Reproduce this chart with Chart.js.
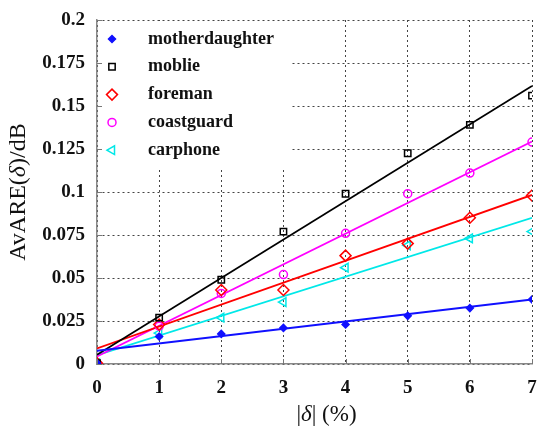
<!DOCTYPE html>
<html>
<head>
<meta charset="utf-8">
<script src="https://cdn.jsdelivr.net/npm/chart.js@4.4.1/dist/chart.umd.min.js"></script>
<style>
  html, body { margin: 0; padding: 0; background: #fff; }
  #wrap { width: 539px; height: 428px; position: relative; }
</style>
</head>
<body>
<div id="wrap"><canvas id="c" width="539" height="428"></canvas></div>
<script>
// ---- data ----
const xValues = [0, 1, 2, 3, 4, 5, 6, 7];
const yTickLabels = ['0', '0.025', '0.05', '0.075', '0.1', '0.125', '0.15', '0.175', '0.2'];
const seriesNames = ['motherdaughter', 'moblie', 'foreman', 'coastguard', 'carphone'];

const motherdaughter = [0.0005, 0.016, 0.0175, 0.021, 0.023, 0.028, 0.0325, 0.0375];
const moblie         = [0.0005, 0.027, 0.049, 0.077, 0.099, 0.1225, 0.139, 0.156];
const foreman        = [0.0005, 0.023, 0.043, 0.043, 0.063, 0.070, 0.085, 0.098];
const coastguard     = [0.0005, 0.022, 0.041, 0.052, 0.076, 0.099, 0.111, 0.129];
const carphone       = [0.0005, 0.018, 0.027, 0.036, 0.056, 0.069, 0.073, 0.077];

// fitted lines: value at x = 0 and at x = 7
const fitX = [0, 7];
const fitMotherdaughter = [0.0077, 0.0375];
const fitMoblie         = [0.0054, 0.1616];
const fitForeman        = [0.0090, 0.0983];
const fitCoastguard     = [0.0044, 0.1293];
const fitCarphone       = [0.0051, 0.0850];

// axis titles (text, italic?)
const yTitleParts = [['AvARE(', false], ['δ', true], [')/dB', false]];
const xTitleParts = [['|', false], ['δ', true], ['| (%)', false]];

// ---- styling ----
const colors = ['#1010ff', '#000000', '#ff0000', '#ff00ff', '#00e8e8'];
const styles = [
  { pointStyle: 'rectRot', radius: 3.5, filled: true, rotation: 0 },
  { pointStyle: 'rect', radius: 4.5, filled: false, rotation: 0 },
  { pointStyle: 'rectRot', radius: 5.5, filled: false, rotation: 0 },
  { pointStyle: 'circle', radius: 4, filled: false, rotation: 0 },
  { pointStyle: 'triangle', radius: 5, filled: false, rotation: -90 }
];
const pointsData = [motherdaughter, moblie, foreman, coastguard, carphone];
const fitsData = [fitMotherdaughter, fitMoblie, fitForeman, fitCoastguard, fitCarphone];

const datasets = [];
fitsData.forEach((f, i) => {
  datasets.push({
    label: seriesNames[i] + ' fit',
    data: fitX.map((x, k) => ({ x: x, y: f[k] })),
    showLine: true,
    borderColor: colors[i],
    borderWidth: 1.8,
    pointRadius: 0,
    fill: false,
    order: 2
  });
});
pointsData.forEach((arr, i) => {
  const s = styles[i];
  datasets.push({
    label: seriesNames[i],
    data: xValues.map((x, k) => ({ x: x, y: arr[k] })),
    showLine: false,
    borderColor: colors[i],
    backgroundColor: s.filled ? colors[i] : 'rgba(0,0,0,0)',
    borderWidth: 1.5,
    pointStyle: s.pointStyle,
    pointRadius: s.radius,
    pointRotation: s.rotation,
    order: 1
  });
});

const SERIF = '"Liberation Serif", "DejaVu Serif", serif';

function drawParts(ctx, parts, size, cx, cy) {
  const fontOf = it => (it ? 'italic ' : '') + size + 'px ' + SERIF;
  let total = 0;
  parts.forEach(p => { ctx.font = fontOf(p[1]); total += ctx.measureText(p[0]).width; });
  let x = cx - total / 2;
  ctx.textBaseline = 'middle';
  ctx.textAlign = 'left';
  parts.forEach(p => {
    ctx.font = fontOf(p[1]);
    ctx.fillText(p[0], x, cy);
    x += ctx.measureText(p[0]).width;
  });
}

const titles = {
  id: 'titles',
  afterDraw(chart) {
    const ctx = chart.ctx, a = chart.chartArea;
    ctx.save();
    ctx.fillStyle = '#111';
    drawParts(ctx, xTitleParts, 23, (a.left + a.right) / 2 + 12, 415);
    ctx.translate(19, (a.top + a.bottom) / 2);
    ctx.rotate(-Math.PI / 2);
    drawParts(ctx, yTitleParts, 24, 0, 0);
    ctx.restore();
  }
};

const innerTicks = {
  id: 'innerTicks',
  afterDraw(chart) {
    const ctx = chart.ctx, a = chart.chartArea;
    const xs = chart.scales.x, ys = chart.scales.y;
    ctx.save();
    ctx.strokeStyle = '#777';
    ctx.lineWidth = 1;
    ctx.beginPath();
    ys.ticks.forEach(t => {
      const py = Math.round(ys.getPixelForValue(t.value)) + 0.5;
      ctx.moveTo(a.left, py); ctx.lineTo(a.left + 5, py);
    });
    xs.ticks.forEach(t => {
      const px = Math.round(xs.getPixelForValue(t.value)) + 0.5;
      ctx.moveTo(px, a.bottom); ctx.lineTo(px, a.bottom - 5);
    });
    ctx.stroke();
    ctx.restore();
  }
};

const boxLegend = {
  id: 'boxLegend',
  afterDatasetsDraw(chart) {
    const ctx = chart.ctx, a = chart.chartArea;
    ctx.save();
    ctx.fillStyle = '#fff';
    ctx.fillRect(a.left + 1, a.top + 1, 192, 147);
    const rowY0 = a.top + 19, rowH = 27.8;
    const markX = a.left + 15, textX = a.left + 51;
    ctx.font = 'bold 18px ' + SERIF;
    ctx.textBaseline = 'middle';
    ctx.textAlign = 'left';
    seriesNames.forEach((name, i) => {
      const y = rowY0 + i * rowH;
      const s = styles[i];
      ctx.strokeStyle = colors[i];
      ctx.fillStyle = s.filled ? colors[i] : 'rgba(0,0,0,0)';
      ctx.lineWidth = 1.5;
      Chart.helpers.drawPoint(ctx, {
        pointStyle: s.pointStyle, radius: s.radius, rotation: s.rotation, borderWidth: 1.5
      }, markX, y);
      ctx.fillStyle = '#111';
      ctx.fillText(name, textX, y);
    });
    ctx.restore();
  }
};

new Chart(document.getElementById('c'), {
  type: 'scatter',
  data: { datasets: datasets },
  options: {
    responsive: false,
    animation: false,
    devicePixelRatio: 1,
    layout: { padding: { top: 20, right: 5, left: 0, bottom: 0 } },
    plugins: { legend: { display: false }, tooltip: { enabled: false } },
    scales: {
      x: {
        type: 'linear', min: 0, max: 7,
        ticks: {
          stepSize: 1, color: '#111', padding: 13,
          font: { family: SERIF, size: 19, weight: 'bold' }
        },
        grid: { color: '#444', drawTicks: false, lineWidth: 1 },
        border: { display: true, color: '#888', width: 1.5, dash: [2, 3] },
        afterFit(s) { s.height = 64; s.paddingLeft = 0; s.paddingRight = 0; }
      },
      y: {
        type: 'linear', min: 0, max: 0.2,
        ticks: {
          stepSize: 0.025, color: '#111', padding: 12,
          font: { family: SERIF, size: 19, weight: 'bold' },
          callback: (v, i) => yTickLabels[i]
        },
        grid: { color: '#444', drawTicks: false, lineWidth: 1 },
        border: { display: true, color: '#888', width: 1.5, dash: [2, 3] },
        afterFit(s) { s.width = 97; s.paddingTop = 0; s.paddingBottom = 0; }
      }
    },
    elements: { line: { tension: 0 } }
  },
  plugins: [innerTicks, boxLegend, titles]
});
</script>
</body>
</html>
